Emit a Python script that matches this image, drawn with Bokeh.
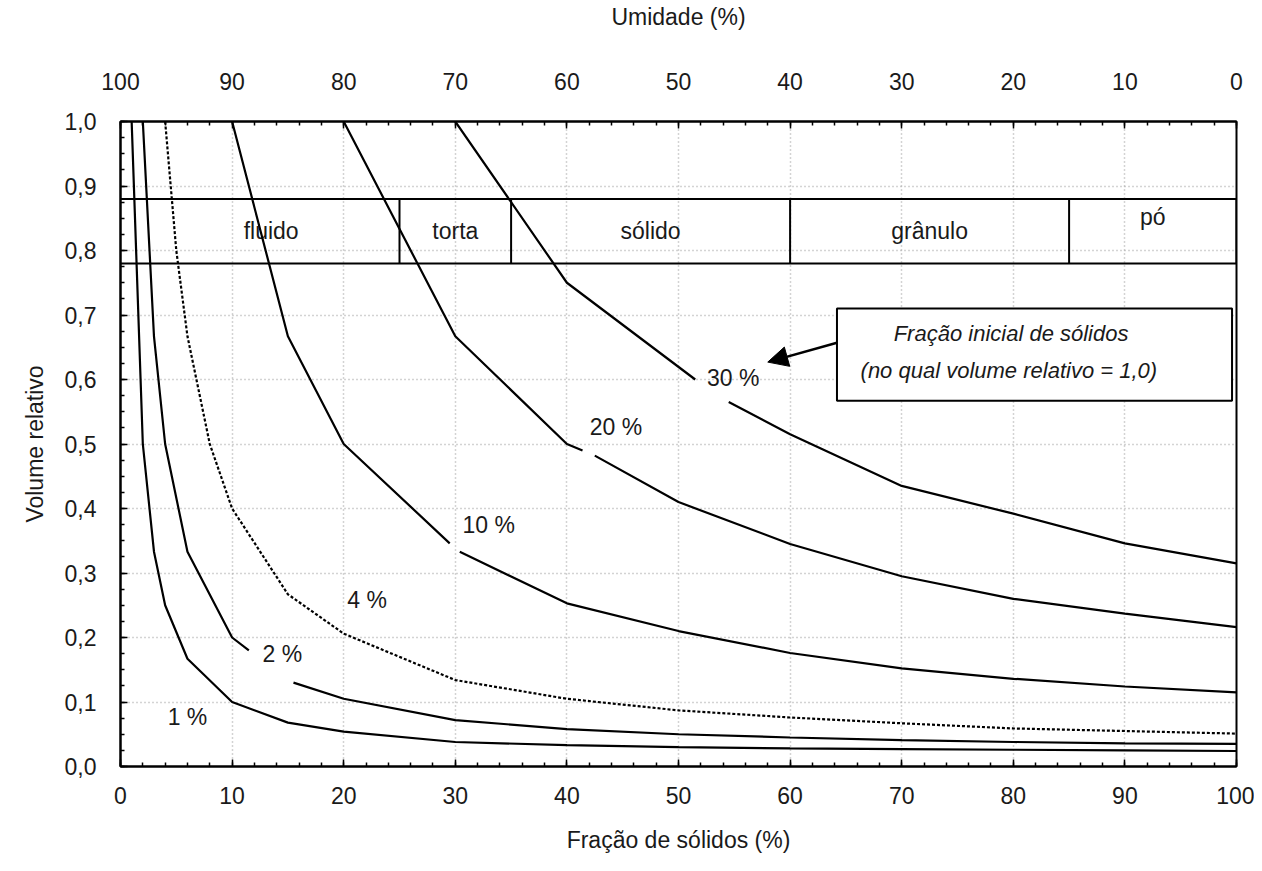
from bokeh.plotting import figure
from bokeh.models import (Range1d, LinearAxis, SingleIntervalTicker, FixedTicker,
                          CustomJSTickFormatter, BoxAnnotation, Label, Arrow, NormalHead)
from bokeh.core.properties import value
from bokeh.embed import file_html
from bokeh.resources import INLINE

# ---------------- data ----------------
x_1 = [1, 2, 3, 4, 6, 10, 15, 20, 30, 40, 50, 60, 70, 80, 90, 100]
y_1 = [1.0, 0.5, 0.333, 0.25, 0.167, 0.10, 0.068, 0.054, 0.038, 0.033, 0.030, 0.028, 0.027, 0.026, 0.025, 0.024]

x_2a = [2, 3, 4, 6, 10, 11.5]
y_2a = [1.0, 0.667, 0.5, 0.333, 0.20, 0.18]
x_2b = [15.5, 20, 30, 40, 50, 60, 70, 80, 90, 100]
y_2b = [0.13, 0.105, 0.072, 0.058, 0.050, 0.045, 0.041, 0.038, 0.036, 0.035]

x_4 = [4, 5, 6, 8, 10, 15, 20, 30, 40, 50, 60, 70, 80, 90, 100]
y_4 = [1.0, 0.8, 0.667, 0.5, 0.4, 0.267, 0.206, 0.134, 0.105, 0.087, 0.076, 0.067, 0.059, 0.055, 0.051]

x_10a = [10, 15, 20, 29.5]
y_10a = [1.0, 0.667, 0.5, 0.346]
x_10b = [30.4, 40, 50, 60, 70, 80, 90, 100]
y_10b = [0.333, 0.253, 0.21, 0.176, 0.152, 0.136, 0.124, 0.115]

x_20a = [20, 30, 40, 41.4]
y_20a = [1.0, 0.667, 0.5, 0.49]
x_20b = [42.5, 50, 60, 70, 80, 90, 100]
y_20b = [0.482, 0.41, 0.345, 0.295, 0.26, 0.237, 0.216]

x_30a = [30, 40, 51.5]
y_30a = [1.0, 0.75, 0.60]
x_30b = [54.5, 60, 70, 80, 90, 100]
y_30b = [0.565, 0.515, 0.435, 0.392, 0.346, 0.315]

curve_labels = ["1 %", "2 %", "4 %", "10 %", "20 %", "30 %"]
curve_label_x = [6.0, 14.5, 22.1, 33.0, 44.4, 54.9]
curve_label_y = [0.076, 0.175, 0.258, 0.374, 0.526, 0.603]

band_edges = [0, 25, 35, 60, 85, 100]
band_bottom = 0.78
band_top = 0.88
band_labels = ["fluido", "torta", "sólido", "grânulo", "pó"]

x_ticks = [0, 10, 20, 30, 40, 50, 60, 70, 80, 90, 100]
y_ticks = [0.0, 0.1, 0.2, 0.3, 0.4, 0.5, 0.6, 0.7, 0.8, 0.9, 1.0]

note_lines = ["Fração inicial de sólidos", "(no qual volume relativo = 1,0)"]

# ---------------- figure ----------------
FONT = "Liberation Sans"
TXT = "#1a1a1a"

p = figure(width=1254, height=863, output_backend="svg", toolbar_location=None,
           x_range=Range1d(0, 100), y_range=Range1d(0, 1.0), x_axis_location=None,
           y_axis_label="Volume relativo")
p.min_border_left = 120
p.min_border_right = 18
p.min_border_top = 121
p.min_border_bottom = 97
p.background_fill_color = "white"
p.border_fill_color = "white"
p.outline_line_color = "black"
p.outline_line_width = 2

bottom = LinearAxis(axis_label="Fração de sólidos (%)")
p.add_layout(bottom, "below")
p.extra_x_ranges = {"umid": Range1d(100, 0)}
top = LinearAxis(x_range_name="umid", axis_label="Umidade (%)")
p.add_layout(top, "above")
left = p.yaxis[0]

for ax in [bottom, top]:
    ax.ticker = SingleIntervalTicker(interval=10, num_minor_ticks=5)
for ax in [bottom, top, left]:
    ax.axis_line_color = "black"
    ax.axis_line_width = 2
    ax.major_tick_in = 7
    ax.major_tick_out = 0
    ax.minor_tick_in = 4
    ax.minor_tick_out = 0
    ax.major_tick_line_width = 1.5
    ax.minor_tick_line_width = 1.5
    ax.major_tick_line_color = "black"
    ax.minor_tick_line_color = "black"
    ax.major_label_text_font = FONT
    ax.major_label_text_font_size = "23px"
    ax.major_label_text_color = TXT
    ax.axis_label_text_font = FONT
    ax.axis_label_text_font_size = "23px"
    ax.axis_label_text_font_style = "normal"
    ax.axis_label_text_color = TXT

bottom.major_label_standoff = 20
bottom.axis_label_standoff = 20
top.major_label_standoff = 32
top.axis_label_standoff = 40
left.ticker = FixedTicker(ticks=y_ticks, minor_ticks=[i * 0.025 for i in range(41)])
left.formatter = CustomJSTickFormatter(code="return tick.toFixed(1).replace('.', ',');")
left.major_label_standoff = 24
left.axis_label_standoff = 14

p.xgrid.ticker = FixedTicker(ticks=x_ticks)
p.ygrid.ticker = FixedTicker(ticks=y_ticks)
for g in [p.xgrid[0], p.ygrid[0]]:
    g.grid_line_color = "#a8a8a8"
    g.grid_line_dash = "1 3"
    g.grid_line_width = 1.5

# ---------------- band (states) ----------------
p.segment(x0=[band_edges[0], band_edges[0]], y0=[band_bottom, band_top],
          x1=[band_edges[-1], band_edges[-1]], y1=[band_bottom, band_top],
          line_color="black", line_width=2)
p.segment(x0=band_edges[1:], y0=[band_bottom] * (len(band_edges) - 1),
          x1=band_edges[1:], y1=[band_top] * (len(band_edges) - 1),
          line_color="black", line_width=2)
mids = [(band_edges[i] + band_edges[i + 1]) / 2 for i in range(len(band_labels))]
mids[0] += 1.0
band_ly = [(band_bottom + band_top) / 2] * len(band_labels)
band_ly[-1] += 0.022
p.text(x=mids, y=band_ly, text=band_labels, text_font=value(FONT),
       text_font_size="23px", text_color=TXT, text_align="center", text_baseline="middle")

# ---------------- curves ----------------
LW = 2.2
for xs, ys in [(x_1, y_1), (x_2a, y_2a), (x_2b, y_2b), (x_10a, y_10a), (x_10b, y_10b),
               (x_20a, y_20a), (x_20b, y_20b), (x_30a, y_30a), (x_30b, y_30b)]:
    p.line(xs, ys, line_color="black", line_width=LW)
p.line(x_4, y_4, line_color="black", line_width=2.2, line_dash="3 2")

p.text(x=curve_label_x, y=curve_label_y, text=curve_labels, text_font=value(FONT),
       text_font_size="23px", text_color=TXT, text_align="center", text_baseline="middle")

# ---------------- annotation ----------------
box = BoxAnnotation(left=64.2, right=99.6, bottom=0.567, top=0.71,
                    fill_color="white", fill_alpha=1.0, line_color="black",
                    line_alpha=1.0, line_width=2)
p.add_layout(box)
p.add_layout(Label(x=79.8, y=0.671, text=note_lines[0], text_font=FONT, text_font_size="22px",
                   text_font_style="italic", text_color=TXT, text_align="center",
                   text_baseline="middle"))
p.add_layout(Label(x=79.6, y=0.614, text=note_lines[1], text_font=FONT, text_font_size="22px",
                   text_font_style="italic", text_color=TXT, text_align="center",
                   text_baseline="middle"))
p.add_layout(Arrow(end=NormalHead(size=20, fill_color="black", line_color="black"),
                   x_start=64.2, y_start=0.657, x_end=58.0, y_end=0.627,
                   line_color="black", line_width=2.5))

open("out.html", "w").write(file_html(p, INLINE))
